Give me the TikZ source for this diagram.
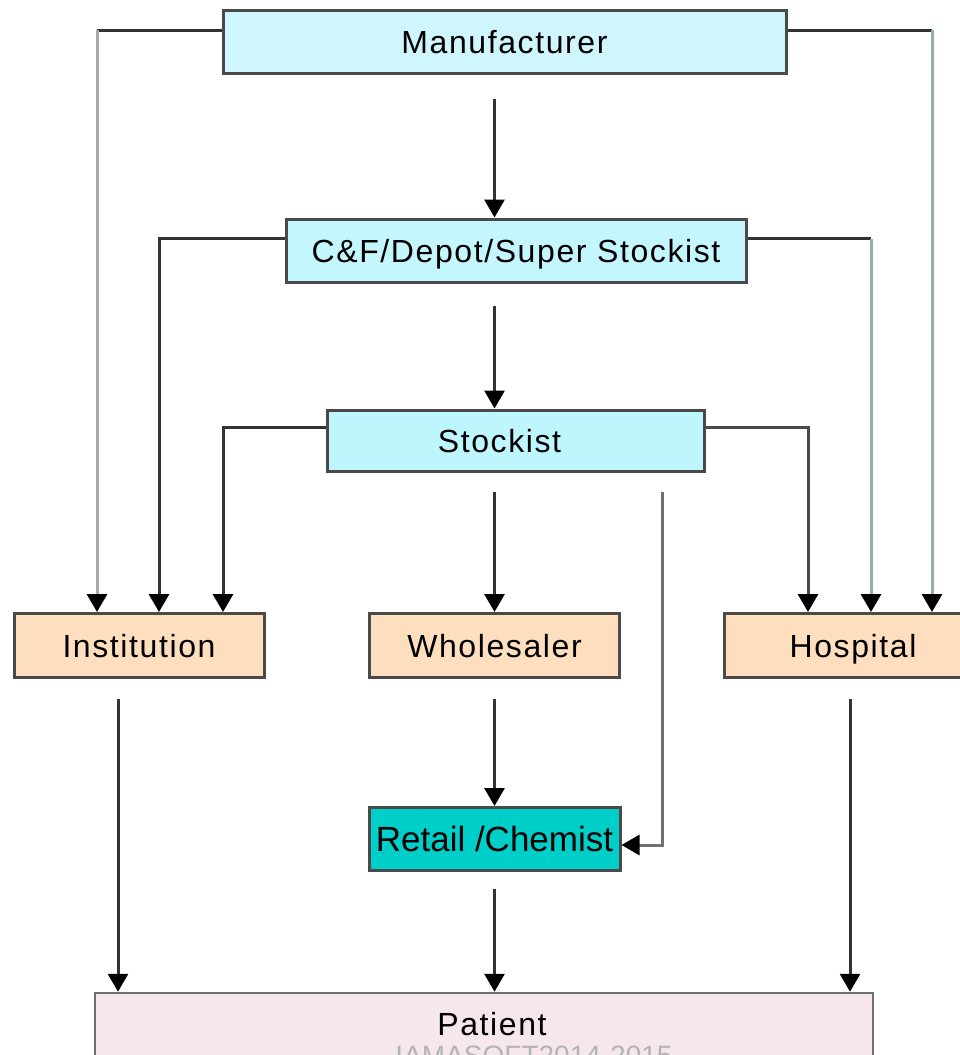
\documentclass[tikz,border=0pt]{standalone}
\usepackage{fontspec}
\setmainfont{Liberation Sans}
\newfontfamily\boxfont{Liberation Sans}[LetterSpace=5]
\usetikzlibrary{arrows.meta,calc}
\definecolor{mancyan}{HTML}{CFF5FD}
\definecolor{cfcyan}{HTML}{C4F6FD}
\definecolor{stkcyan}{HTML}{BDF6FD}
\definecolor{peach}{HTML}{FDDEBE}
\definecolor{retailteal}{HTML}{00CEC8}
\definecolor{patpink}{HTML}{F6E7EE}
\definecolor{boxline}{HTML}{4A4A4A}
\definecolor{darkline}{HTML}{333333}
\definecolor{grayline}{HTML}{A8A8A8}
\definecolor{tealgray}{HTML}{8FB0B0}
\definecolor{midgray}{HTML}{707070}
\definecolor{wmgray}{HTML}{B4B4B4}
\tikzset{
  boxtext/.style={font=\boxfont\fontsize{32}{38}\selectfont, text height=23pt, text depth=0pt},
  box/.style={draw=boxline, line width=3pt, inner sep=0pt, boxtext},
  seg/.style={line width=3pt, draw=darkline},
  conn/.style={line width=3pt, draw=darkline, -{Triangle[width=20pt,length=18pt,color=black]}},
}
\begin{document}
\begin{tikzpicture}[x=1pt,y=-1pt]
\path[use as bounding box] (0,0) rectangle (960,1055);
\clip (0,0) rectangle (960,1055);
% boxes
\node[box, fill=mancyan, minimum width=563pt, minimum height=63pt] (man) at (504.5,41.5) {Manufacturer};
\node[box, fill=cfcyan, minimum width=460pt, minimum height=63pt] (cf) at (516,250.5) {C\&F/Depot/Super Stockist};
\node[box, fill=stkcyan, minimum width=377pt, minimum height=61pt,
      label={[xshift=-16pt, boxtext]center:Stockist}] (stk) at (515.5,440.5) {};
\node[box, fill=peach, minimum width=250pt, minimum height=64pt] (inst) at (139,645.5) {Institution};
\node[box, fill=peach, minimum width=250pt, minimum height=64pt] (whole) at (494.5,645.5) {Wholesaler};
\node[box, fill=peach, minimum width=258pt, minimum height=64pt] (hosp) at (853,645.5) {Hospital};
\node[box, fill=retailteal, minimum width=251pt, minimum height=63pt, font=\fontsize{35}{40}\selectfont, text height=25pt] (retail) at (494.5,839) {Retail /Chemist};
\node[box, draw=midgray, line width=2.5pt, fill=patpink, minimum width=778pt, minimum height=66pt,
      label={[xshift=8pt, yshift=2pt, boxtext]center:Patient}] (pat) at (484,1026) {};
\node[text=wmgray, font=\fontsize{28}{32}\selectfont] (wm) at (534,1056) {IAMASOFT2014-2015};
% bend coordinates
\coordinate (c1) at (97,30);
\coordinate (c2) at (932,30);
\coordinate (c3) at (159,238.5);
\coordinate (c4) at (871,238.5);
\coordinate (c5) at (223,427);
\coordinate (c6) at (808,427);
\coordinate (c7) at (662.5,845);
\coordinate (xi) at (118,0);
\coordinate (xh) at (850,0);
% manufacturer outer lines
\draw[seg] (man.west |- c1) -- (c1);
\draw[conn, draw=grayline] (c1) -- (inst.north -| c1);
\draw[seg] (man.east |- c2) -- (c2);
\draw[conn, draw=tealgray] (c2) -- (hosp.north -| c2);
% central column
\draw[conn, shorten <=24pt] (man.south -| whole.center) -- (cf.north -| whole.center);
\draw[conn, shorten <=22pt] (cf.south -| whole.center) -- (stk.north -| whole.center);
\draw[conn, shorten <=19pt] (stk.south -| whole.center) -- (whole.north);
\draw[conn, shorten <=20pt] (whole.south) -- (retail.north);
\draw[conn, shorten <=17pt] (retail.south) -- (pat.north -| retail.center);
% C&F side lines
\draw[conn] (cf.west |- c3) -| (inst.north -| c3);
\draw[seg] (cf.east |- c4) -- (c4);
\draw[conn, draw=tealgray] (c4) -- (hosp.north -| c4);
% stockist side lines
\draw[conn] (stk.west |- c5) -| (inst.north -| c5);
\draw[conn, draw=boxline] (stk.east |- c6) -| (hosp.north -| c6);
\draw[conn, draw=midgray, shorten <=19pt] (stk.south -| c7) |- (retail.east |- c7);
% to patient
\draw[conn, shorten <=20pt] (inst.south -| xi) -- (pat.north -| xi);
\draw[conn, shorten <=20pt] (hosp.south -| xh) -- (pat.north -| xh);
\end{tikzpicture}
\end{document}
